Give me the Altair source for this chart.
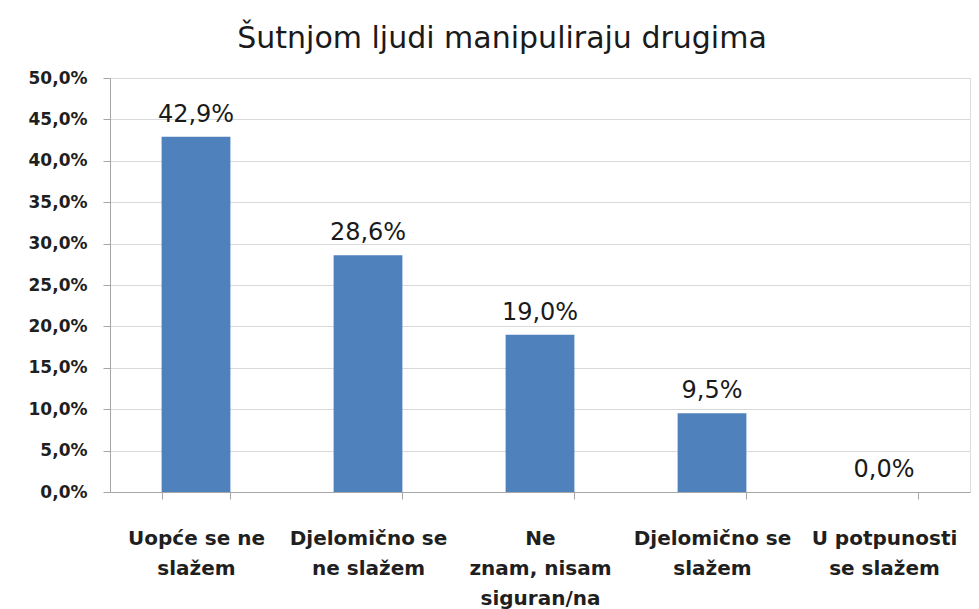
import altair as alt
import pandas as pd

categories = ["Uopće se ne\nslažem", "Djelomično se\nne slažem", "Ne\nznam, nisam\nsiguran/na",
              "Djelomično se\nslažem", "U potpunosti\nse slažem"]
values = [0.429, 0.286, 0.190, 0.095, 0.0]
title = "Šutnjom ljudi manipuliraju drugima"

df = pd.DataFrame({"cat": categories, "val": values})
df["lbl"] = [f"{v*100:.1f}%".replace(".", ",") for v in values]

FONT = "DejaVu Sans"

x = alt.X("cat:N", sort=categories, title=None,
          scale=alt.Scale(paddingInner=0.6, paddingOuter=0.3),
          axis=alt.Axis(labelAngle=0, labelExpr="split(datum.label, '\\n')",
                        labelFontSize=20, labelFontWeight="bold", labelColor="#1f1f1f",
                        labelFont=FONT, labelPadding=29, labelLineHeight=30,
                        tickBand="extent", tickSize=7, tickColor="#A6A6A6",
                        domainColor="#A6A6A6", labelLimit=250))
y = alt.Y("val:Q", title=None,
          scale=alt.Scale(domain=[0, 0.5]),
          axis=alt.Axis(values=[i * 0.05 for i in range(11)],
                        labelExpr="replace(format(datum.value, '.1%'), '.', ',')",
                        labelFontSize=17, labelFontWeight="bold", labelColor="#1f1f1f",
                        labelFont=FONT, labelPadding=16, tickSize=7, tickColor="#A6A6A6",
                        domainColor="#A6A6A6", gridColor="#D9D9D9", grid=True))

bars = alt.Chart(df).mark_bar(color="#4F81BD", strokeWidth=0).encode(x=x, y=y)
labels = alt.Chart(df).mark_text(baseline="bottom", dy=-10, fontSize=24, font=FONT,
                                 color="#1a1a1a").encode(x=x, y=y, text="lbl:N")

chart = (bars + labels).properties(
    width=860, height=414,
    autosize=alt.AutoSizeParams(type="none"),
    padding={"left": 102, "top": 70, "right": 1, "bottom": 117},
    title=alt.TitleParams(title, fontSize=30, font=FONT, fontWeight="normal", color="#1a1a1a",
                          anchor="middle", dx=-38, offset=15),
).configure_view(stroke=None).configure(background="white")

chart.save("out.html", embed_options={"renderer": "svg", "actions": False})
